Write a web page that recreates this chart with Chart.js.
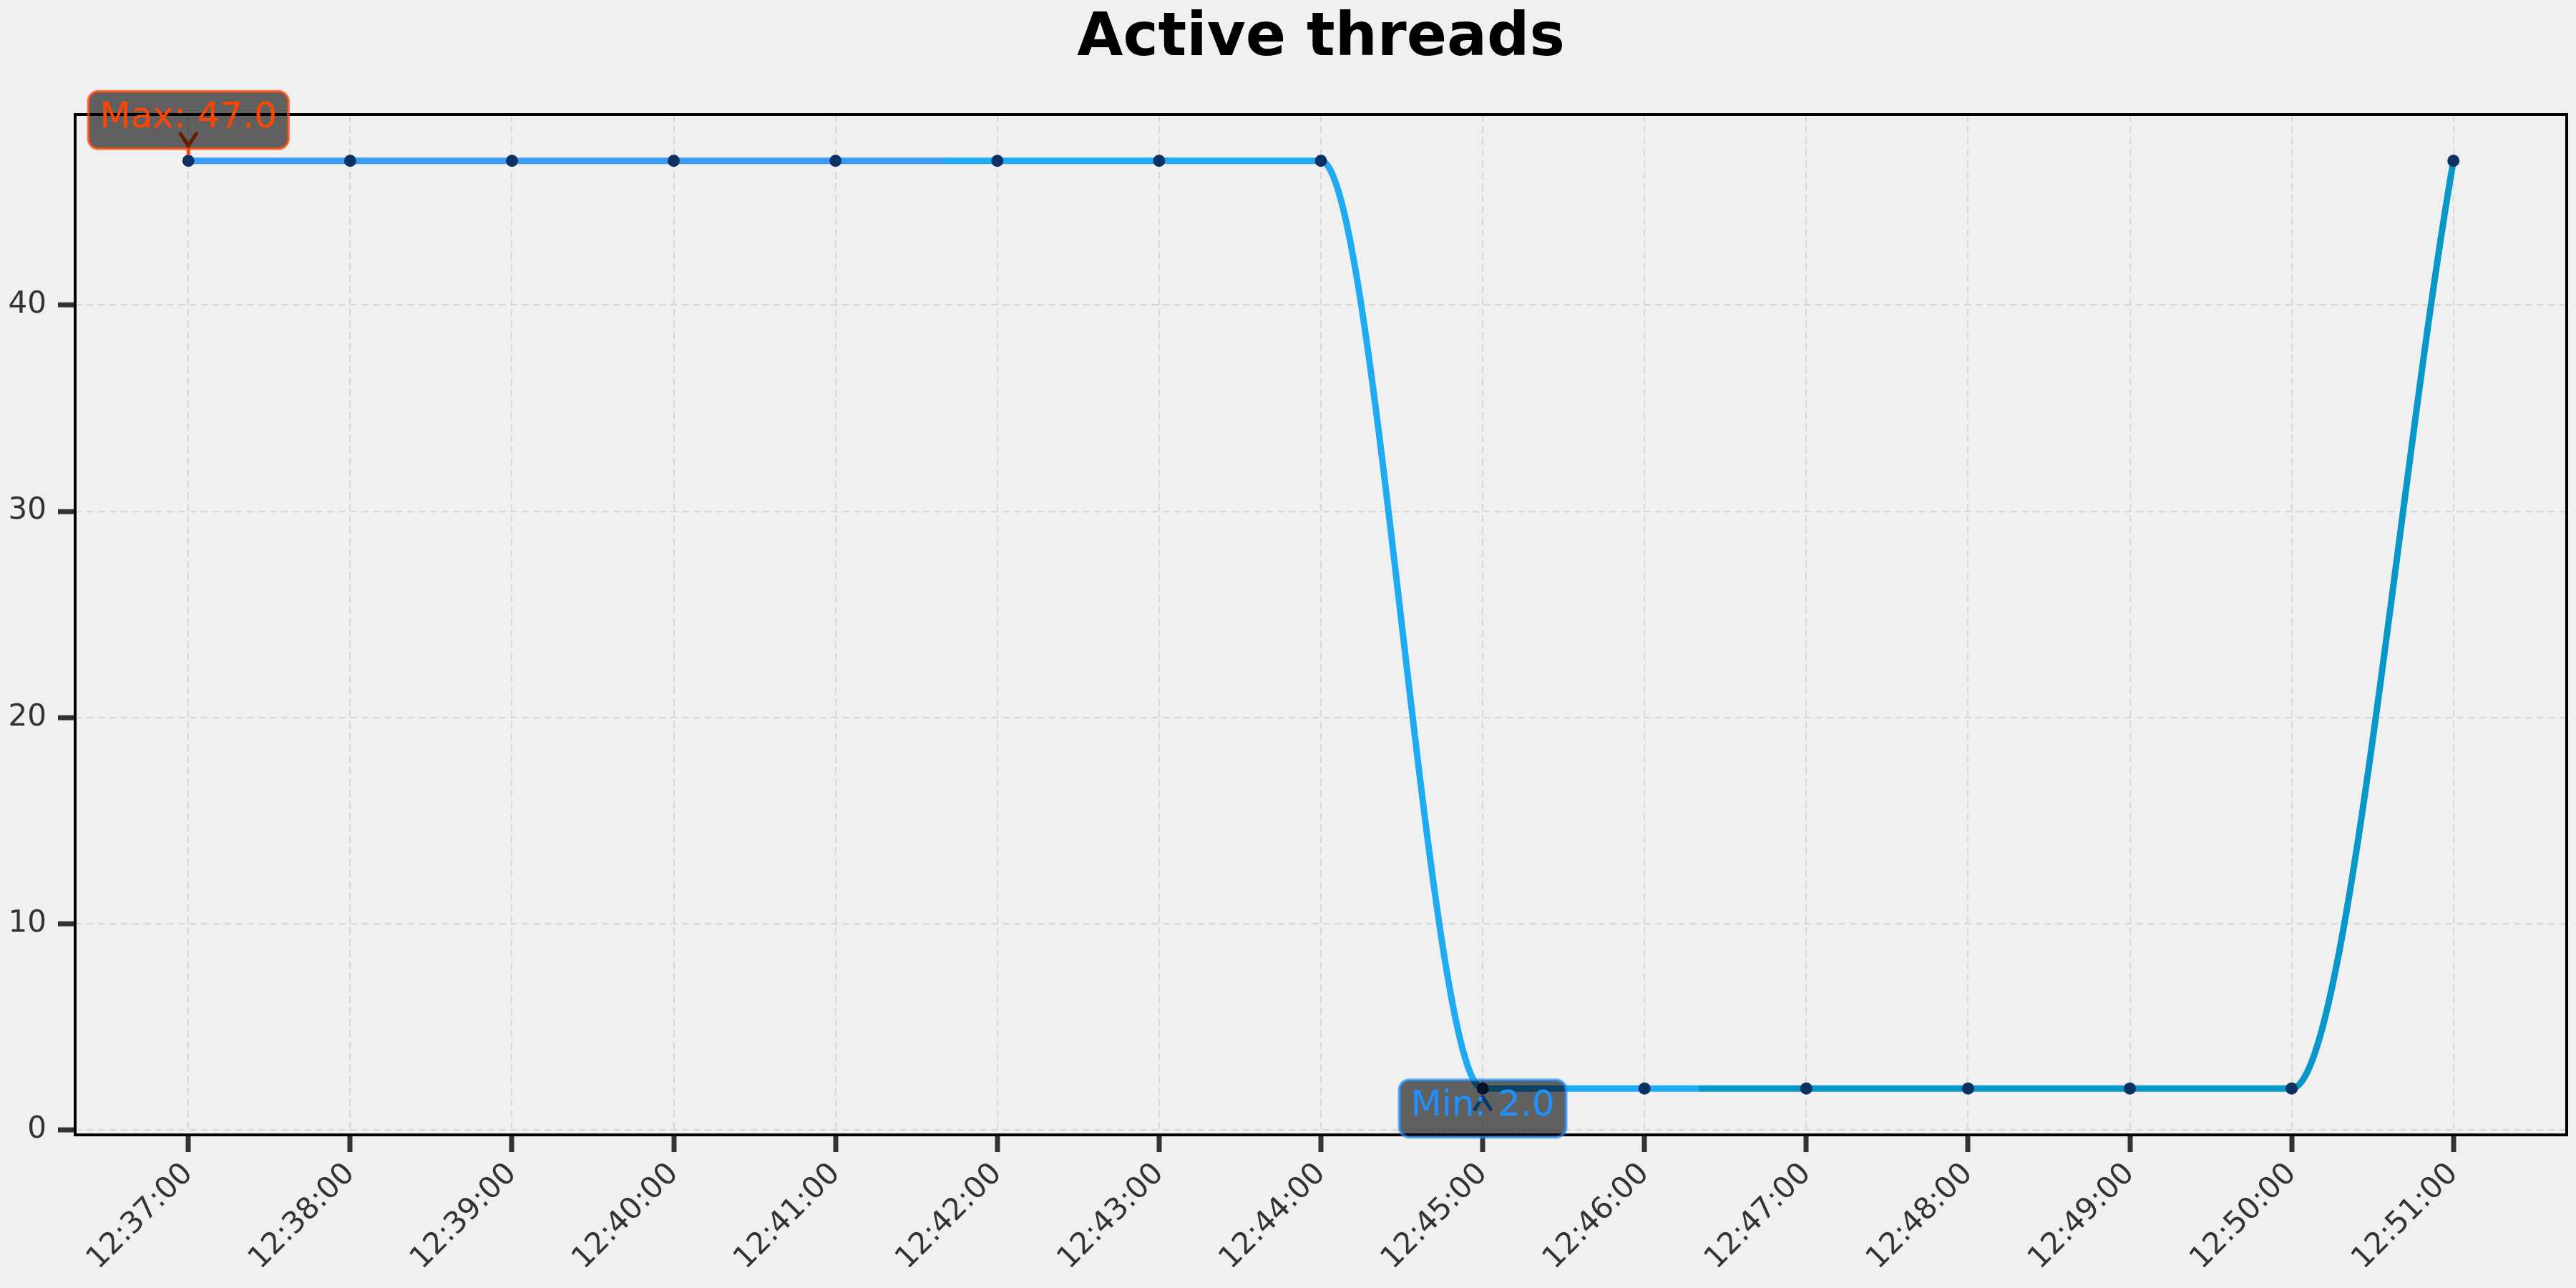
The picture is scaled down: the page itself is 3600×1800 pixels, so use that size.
<!DOCTYPE html>
<html>
<head>
   <title>Active threads</title>
   <meta charset="UTF-8">
   <script src="https://cdn.jsdelivr.net/npm/chart.js"></script>
   <style>
       body {
           margin: 0;
           background: #f0f0f0;
       }
       .wrap {
           width: 3600px;
           height: 1800px;
       }
   </style>
</head>
<body>
   <div class="wrap"><canvas id="threadsChart"></canvas></div>

   <script>
       // Data
       const times = ['12:37:00', '12:38:00', '12:39:00', '12:40:00', '12:41:00',
                      '12:42:00', '12:43:00', '12:44:00', '12:45:00', '12:46:00',
                      '12:47:00', '12:48:00', '12:49:00', '12:50:00', '12:51:00'];
       const activeThreads = [47, 47, 47, 47, 47, 47, 47, 47, 2, 2, 2, 2, 2, 2, 47];
       const yTicks = [0, 10, 20, 30, 40];

       // line colour changes in three equal bands along x
       const lineColors = ['#3a9bf3', '#1eabf4', '#0897c9'];

       Chart.defaults.font.family = '"DejaVu Sans"';
       Chart.defaults.color = '#333';

       function bandGradient(ctx) {
           const chart = ctx.chart;
           const xs = chart.scales.x;
           if (!chart.chartArea || !xs) return lineColors[0];
           const x0 = xs.getPixelForValue(0);
           const x1 = xs.getPixelForValue(times.length - 1);
           const g = chart.ctx.createLinearGradient(x0, 0, x1, 0);
           lineColors.forEach((c, i) => {
               g.addColorStop(i / lineColors.length, c);
               g.addColorStop((i + 1) / lineColors.length, c);
           });
           return g;
       }

       // Max / min label with small arrow
       function drawNote(ctx, pt, text, color, dir, tipGap) {
           const x = pt.x, y = pt.y;
           const tipY = y + dir * tipGap;

           ctx.strokeStyle = color;
           ctx.lineWidth = 5;
           ctx.lineCap = 'round';
           ctx.beginPath();
           if (tipGap > 12) {
               ctx.moveTo(x, tipY);
               ctx.lineTo(x, y + dir * 10);
           }
           ctx.moveTo(x - 11, tipY + dir * 17);
           ctx.lineTo(x, tipY);
           ctx.lineTo(x + 11, tipY + dir * 17);
           ctx.stroke();

           ctx.font = '50px "DejaVu Sans"';
           const w = ctx.measureText(text).width + 32;
           const h = 80;
           const cy = dir < 0 ? y - 57 : y + 28;
           ctx.beginPath();
           ctx.roundRect(x - w / 2, cy - h / 2, w, h, 14);
           ctx.fillStyle = 'rgba(0, 0, 0, 0.6)';
           ctx.fill();
           ctx.globalAlpha = 0.7;
           ctx.lineWidth = 4;
           ctx.stroke();
           ctx.globalAlpha = 1;

           ctx.fillStyle = color;
           ctx.textAlign = 'center';
           ctx.textBaseline = 'middle';
           ctx.fillText(text, x, cy - 3);
       }

       const extras = {
           id: 'extras',
           afterDatasetsDraw(chart) {
               const ctx = chart.ctx;
               const a = chart.chartArea;
               ctx.save();

               // frame
               ctx.strokeStyle = '#000';
               ctx.lineWidth = 4;
               ctx.strokeRect(a.left, a.top, a.right - a.left, a.bottom - a.top);

               const pts = chart.getDatasetMeta(0).data;
               const maxV = Math.max(...activeThreads);
               const minV = Math.min(...activeThreads);
               drawNote(ctx, pts[activeThreads.indexOf(maxV)], 'Max: ' + maxV.toFixed(1), '#ff4500', -1, 21);
               drawNote(ctx, pts[activeThreads.indexOf(minV)], 'Min: ' + minV.toFixed(1), '#1e90ff', 1, 12);

               // title, centred on the plot area
               ctx.font = 'bold 83px "DejaVu Sans"';
               ctx.fillStyle = '#000';
               ctx.textAlign = 'center';
               ctx.textBaseline = 'alphabetic';
               ctx.fillText('Active threads', (a.left + a.right) / 2, 77);
               ctx.restore();
           }
       };

       const gridOpts = {
           color: '#d8d8d8',
           lineWidth: 2,
           tickLength: 24,
           tickColor: '#333',
           tickWidth: 7,
           tickBorderDash: []
       };

       new Chart(document.getElementById('threadsChart'), {
           type: 'line',
           data: {
               datasets: [{
                   data: activeThreads.map((v, i) => ({ x: i, y: v })),
                   borderColor: bandGradient,
                   borderWidth: 9,
                   cubicInterpolationMode: 'monotone',
                   pointRadius: 8.5,
                   pointHoverRadius: 8.5,
                   pointBackgroundColor: '#0b3163',
                   pointBorderWidth: 0
               }]
           },
           options: {
               responsive: true,
               maintainAspectRatio: false,
               animation: false,
               layout: {
                   padding: { top: 160, right: 13, left: 0, bottom: 0 }
               },
               plugins: {
                   legend: { display: false },
                   tooltip: { enabled: false },
                   title: { display: false }
               },
               scales: {
                   x: {
                       type: 'linear',
                       min: -0.7,
                       max: times.length - 1 + 0.7,
                       afterBuildTicks: s => { s.ticks = times.map((_, i) => ({ value: i })); },
                       afterFit: s => { s.height = 214; },
                       ticks: {
                           callback: v => times[v],
                           minRotation: 45,
                           maxRotation: 45,
                           autoSkip: false,
                           padding: 6,
                           font: { size: 42 },
                           color: '#333'
                       },
                       grid: gridOpts,
                       border: { display: false, dash: [10, 6] }
                   },
                   y: {
                       min: -0.25,
                       max: 49.25,
                       afterBuildTicks: s => { s.ticks = yTicks.map(v => ({ value: v })); },
                       afterFit: s => { s.width = 105; },
                       ticks: {
                           padding: 16,
                           font: { size: 42 },
                           color: '#333'
                       },
                       grid: gridOpts,
                       border: { display: false, dash: [10, 6] }
                   }
               }
           },
           plugins: [extras]
       });
   </script>
</body>
</html>
